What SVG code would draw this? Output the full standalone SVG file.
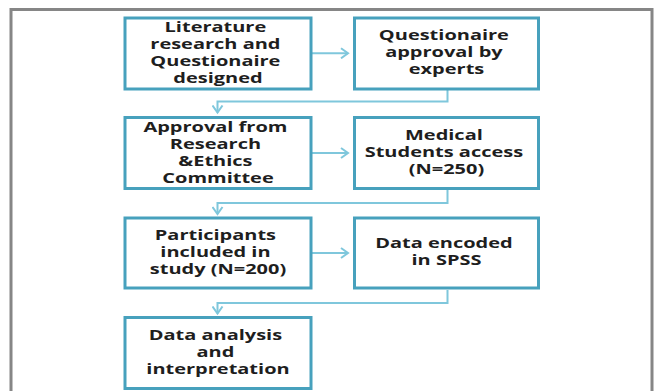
<svg xmlns="http://www.w3.org/2000/svg" width="654" height="391" viewBox="0 0 654 391">
  <defs>
    <style>
      .frame { fill: #ffffff; stroke: #868686; stroke-width: 3; }
      .box { fill: #ffffff; stroke: #47a1bd; stroke-width: 3; }
      .link { fill: none; stroke: #7fc7dc; stroke-width: 2; }
      .t { font-family: "Open Sans", "Liberation Sans", sans-serif; font-weight: 700; font-size: 13.5px; fill: #1e1e1e; text-anchor: middle; }
    </style>
    <marker id="chev" viewBox="0 0 10 12" refX="8" refY="6" markerWidth="10" markerHeight="12" markerUnits="userSpaceOnUse" orient="auto">
      <path d="M1,1 L8,6 L1,11" fill="none" stroke="#7fc7dc" stroke-width="2"/>
    </marker>
  </defs>

  <!-- outer border -->
  <rect class="frame" x="11" y="9.5" width="641" height="400"/>

  <!-- connectors -->
  <g id="connectors">
    <line class="link" x1="312" y1="53.3" x2="348" y2="53.3" marker-end="url(#chev)"/>
    <polyline class="link" points="447.5,90 447.5,101.5 217.5,101.5 217.5,112.5" marker-end="url(#chev)"/>
    <line class="link" x1="312" y1="153" x2="348" y2="153" marker-end="url(#chev)"/>
    <polyline class="link" points="447.5,190 447.5,203 217.5,203 217.5,214" marker-end="url(#chev)"/>
    <line class="link" x1="312" y1="253" x2="348" y2="253" marker-end="url(#chev)"/>
    <polyline class="link" points="447.5,290 447.5,303 217.5,303 217.5,313.5" marker-end="url(#chev)"/>
  </g>

  <!-- nodes -->
  <g id="literature">
    <rect class="box" x="125" y="18" width="186" height="71"/>
    <text class="t" transform="matrix(1.48 0 0 1 218 0)">
      <tspan x="0" y="32">Literature</tspan>
      <tspan x="0" y="49">research and</tspan>
      <tspan x="0" y="66">Questionaire</tspan>
      <tspan x="0" y="83">designed</tspan>
    </text>
  </g>

  <g id="expert-approval">
    <rect class="box" x="354.5" y="18" width="184" height="71"/>
    <text class="t" transform="matrix(1.48 0 0 1 446.5 0)">
      <tspan x="0" y="40">Questionaire</tspan>
      <tspan x="0" y="57">approval by</tspan>
      <tspan x="0" y="74">experts</tspan>
    </text>
  </g>

  <g id="ethics-approval">
    <rect class="box" x="125" y="117.5" width="186" height="71"/>
    <text class="t" transform="matrix(1.48 0 0 1 218 0)">
      <tspan x="0" y="132">Approval from</tspan>
      <tspan x="0" y="149">Research</tspan>
      <tspan x="0" y="166">&amp;Ethics</tspan>
      <tspan x="0" y="183">Committee</tspan>
    </text>
  </g>

  <g id="student-access">
    <rect class="box" x="354.5" y="117.5" width="184" height="71"/>
    <text class="t" transform="matrix(1.48 0 0 1 446.5 0)">
      <tspan x="0" y="140">Medical</tspan>
      <tspan x="0" y="157">Students access</tspan>
      <tspan x="0" y="174">(N=250)</tspan>
    </text>
  </g>

  <g id="participants">
    <rect class="box" x="125" y="218" width="186" height="70"/>
    <text class="t" transform="matrix(1.48 0 0 1 218 0)">
      <tspan x="0" y="240">Participants</tspan>
      <tspan x="0" y="257">included  in</tspan>
      <tspan x="0" y="274">study (N=200)</tspan>
    </text>
  </g>

  <g id="spss">
    <rect class="box" x="354.5" y="218" width="184" height="70"/>
    <text class="t" transform="matrix(1.48 0 0 1 446.5 0)">
      <tspan x="0" y="248.5">Data encoded</tspan>
      <tspan x="0" y="265.5">in SPSS</tspan>
    </text>
  </g>

  <g id="analysis">
    <rect class="box" x="125" y="317.5" width="186" height="71"/>
    <text class="t" transform="matrix(1.48 0 0 1 218 0)">
      <tspan x="0" y="340">Data analysis</tspan>
      <tspan x="0" y="357">and</tspan>
      <tspan x="0" y="374">interpretation</tspan>
    </text>
  </g>
</svg>
